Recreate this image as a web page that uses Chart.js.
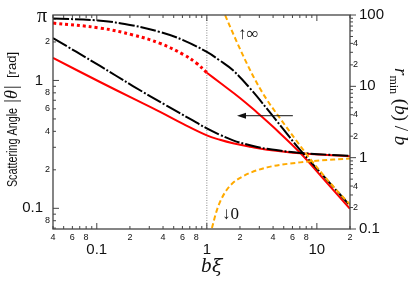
<!DOCTYPE html>
<html>
<head>
<meta charset="utf-8">
<script src="https://cdn.jsdelivr.net/npm/chart.js@4.4.1/dist/chart.umd.min.js"></script>
<style>
    html, body { margin: 0; padding: 0; background: #fff; }
    #wrap { width: 415px; height: 282px; }
</style>
</head>
<body>
<div id="wrap"><canvas id="myChart" width="415" height="282"></canvas></div>
<script>
// scattering angle |theta| (left axis)
var thetaBlackX = [0.04, 0.1025, 0.213, 0.376, 0.608, 1.0, 1.316, 1.73, 2.47, 3.53, 4.93, 7.04, 11.9, 20];
var thetaBlackY = [3.05, 2.945, 2.69, 2.39, 2.07, 1.67, 1.43, 1.20, 0.867, 0.599, 0.418, 0.286, 0.173, 0.105];
var thetaRedDotX = [0.04, 0.107, 0.213, 0.376, 0.608, 0.8, 1.0];
var thetaRedDotY = [2.81, 2.57, 2.27, 1.95, 1.60, 1.37, 1.15];
var thetaRedX = [1.0, 1.31, 2.0, 2.86, 4.0, 7.04, 11.9, 20];
var thetaRedY = [1.15, 0.964, 0.73, 0.562, 0.434, 0.272, 0.164, 0.099];
var thetaOrangeX = [1.213, 1.464, 1.66, 1.883, 2.226, 2.631, 3.38, 4.63, 6.34, 8.68, 13.18, 20];
var thetaOrangeY = [4.83, 3.25, 2.53, 1.98, 1.45, 1.085, 0.744, 0.505, 0.349, 0.244, 0.158, 0.107];

// r_min(b)/b (right axis)
var rminBlackX = [0.04, 0.107, 0.213, 0.435, 0.704, 1.0, 1.316, 1.73, 2.47, 3.53, 7.04, 20];
var rminBlackY = [47.6, 19.3, 10.1, 5.31, 3.49, 2.57, 2.09, 1.75, 1.49, 1.33, 1.167, 1.06];
var rminRedX = [0.04, 0.107, 0.213, 0.376, 0.608, 1.0, 1.316, 1.73, 2.47, 3.53, 7.04, 20];
var rminRedY = [25.0, 11.5, 6.77, 4.38, 2.97, 2.05, 1.78, 1.59, 1.42, 1.29, 1.15, 1.043];
var rminOrangeX = [1.069, 1.127, 1.213, 1.318, 1.496, 1.73, 2.047, 2.47, 3.53, 7.04, 20];
var rminOrangeY = [0.080, 0.111, 0.169, 0.240, 0.343, 0.444, 0.53, 0.612, 0.731, 0.859, 0.977];

// axes and tick labels
var xRange = [0.04, 20];
var thetaRange = [0.0689, 3.25];
var rminRange = [0.1, 100];
var xMajorLabels = [0.1, 1, 10];
var xMinorLabels = [0.04, 0.06, 0.08, 0.2, 0.4, 0.6, 0.8, 2, 4, 6, 8, 20];
var leftMajorLabels = [1, 0.1];
var leftMinorLabels = [2, 0.8, 0.6, 0.4, 0.2, 0.08];
var rightMajorLabels = [100, 10, 1, 0.1];
var rightMinorLabels = [40, 20, 4, 2, 0.4, 0.2];

// annotations (data units, left axis)
var arrowFrom = { x: 6.05, y: 0.53 };
var arrowTo = { x: 1.88, y: 0.53 };
var infLabel = { x: 1.92, y: 2.12 };
var zeroLabel = { x: 1.37, y: 0.0826 };

function toPoints(xs, ys) {
    return xs.map(function (x, i) { return { x: x, y: ys[i] }; });
}

function logTicks(min, max) {
    var out = [];
    for (var e = -2; e <= 2; e++) {
        for (var m = 1; m <= 9; m++) {
            var v = m * Math.pow(10, e);
            if (v >= min * 0.999 && v <= max * 1.001) out.push({ v: v, major: m === 1 });
        }
    }
    return out;
}

function digit(v) {
    return String(Math.round(v / Math.pow(10, Math.floor(Math.log10(v) + 1e-9))));
}

function line(ctx, x1, y1, x2, y2) {
    ctx.beginPath();
    ctx.moveTo(x1, y1);
    ctx.lineTo(x2, y2);
    ctx.stroke();
}

function rotText(ctx, text, font, x, y, angle, sx) {
    ctx.save();
    ctx.translate(x, y);
    ctx.rotate(angle);
    ctx.scale(sx || 1, 1);
    ctx.font = font;
    ctx.textAlign = 'center';
    ctx.textBaseline = 'alphabetic';
    ctx.fillText(text, 0, 0);
    ctx.restore();
}

var SANS = '"Liberation Sans", Arial, sans-serif';
var SERIF = '"Liberation Serif", "Times New Roman", serif';

var framePlugin = {
    id: 'frame',
    beforeDatasetsDraw: function (chart) {
        var ctx = chart.ctx, a = chart.chartArea;
        var px = chart.scales.x.getPixelForValue(1);
        ctx.save();
        ctx.strokeStyle = '#888';
        ctx.lineWidth = 1;
        ctx.setLineDash([1, 1.5]);
        line(ctx, px, a.top, px, a.bottom);
        ctx.restore();
    },
    afterDatasetsDraw: function (chart) {
        var ctx = chart.ctx, a = chart.chartArea;
        var xs = chart.scales.x, yl = chart.scales.y, yr = chart.scales.y2;
        ctx.save();
        ctx.strokeStyle = '#444';
        ctx.fillStyle = '#111';
        ctx.lineWidth = 1.3;
        ctx.strokeRect(a.left, a.top, a.right - a.left, a.bottom - a.top);

        ctx.lineWidth = 1;
        logTicks(xRange[0], xRange[1]).forEach(function (t) {
            var p = xs.getPixelForValue(t.v), len = t.major ? 6 : 3;
            line(ctx, p, a.bottom, p, a.bottom - len);
            line(ctx, p, a.top, p, a.top + len);
        });
        logTicks(thetaRange[0], thetaRange[1]).forEach(function (t) {
            var p = yl.getPixelForValue(t.v), len = t.major ? 6 : 3;
            line(ctx, a.left, p, a.left + len, p);
        });
        logTicks(rminRange[0], rminRange[1]).forEach(function (t) {
            var p = yr.getPixelForValue(t.v), len = t.major ? 6 : 3;
            line(ctx, a.right, p, a.right + len, p);
        });

        // tick labels
        ctx.textBaseline = 'middle';
        ctx.textAlign = 'center';
        ctx.font = '9px ' + SANS;
        xMinorLabels.forEach(function (v) { ctx.fillText(digit(v), xs.getPixelForValue(v), a.bottom + 8.5); });
        ctx.font = '15px ' + SANS;
        xMajorLabels.forEach(function (v) { ctx.fillText(String(v), xs.getPixelForValue(v), a.bottom + 21); });

        ctx.textAlign = 'right';
        ctx.font = '9px ' + SANS;
        leftMinorLabels.forEach(function (v) { ctx.fillText(digit(v), a.left - 3, yl.getPixelForValue(v)); });
        ctx.font = '15px ' + SANS;
        leftMajorLabels.forEach(function (v) { ctx.fillText(String(v), a.left - 10, yl.getPixelForValue(v)); });
        ctx.textBaseline = 'alphabetic';
        ctx.font = '20px ' + SERIF;
        ctx.fillText('\u03c0', a.left - 6, yl.getPixelForValue(Math.PI) + 5);

        ctx.textBaseline = 'middle';
        ctx.textAlign = 'left';
        ctx.font = '9px ' + SANS;
        rightMinorLabels.forEach(function (v) { ctx.fillText(digit(v), a.right + 3, yr.getPixelForValue(v)); });
        ctx.font = '15px ' + SANS;
        rightMajorLabels.forEach(function (v) { ctx.fillText(String(v), a.right + 9, yr.getPixelForValue(v)); });

        // arrow and limit marks
        var ax1 = xs.getPixelForValue(arrowFrom.x), ay = yl.getPixelForValue(arrowFrom.y);
        var ax2 = xs.getPixelForValue(arrowTo.x);
        ctx.strokeStyle = '#111';
        line(ctx, ax1, ay, ax2 + 5, ay);
        ctx.beginPath();
        ctx.moveTo(ax2, ay);
        ctx.lineTo(ax2 + 9, ay - 3);
        ctx.lineTo(ax2 + 9, ay + 3);
        ctx.closePath();
        ctx.fill();

        ctx.textAlign = 'left';
        ctx.textBaseline = 'alphabetic';
        ctx.font = '17px ' + SERIF;
        ctx.fillText('\u2191\u221e', xs.getPixelForValue(infLabel.x), yl.getPixelForValue(infLabel.y));
        ctx.fillText('\u21930', xs.getPixelForValue(zeroLabel.x), yl.getPixelForValue(zeroLabel.y));

        // axis titles
        ctx.textAlign = 'left';
        ctx.font = 'italic 21px ' + SERIF;
        ctx.fillText('b', 201, 272);
        ctx.font = 'italic 19px "DejaVu Serif", serif';
        ctx.fillText('\u03be', 212, 272);
        rotText(ctx, 'Scattering Angle', '15px ' + SANS, 16.5, 147.5, -Math.PI / 2, 0.72);
        rotText(ctx, '|\u03b8|', 'italic 18px ' + SERIF, 17, 94.5, -Math.PI / 2);
        rotText(ctx, '[rad]', '13px ' + SANS, 16, 65, -Math.PI / 2);

        // r_min(b)/b, reading downwards
        ctx.save();
        ctx.translate(395, 68);
        ctx.rotate(Math.PI / 2);
        ctx.textAlign = 'left';
        var cx = 0;
        var parts = [
            { t: 'r', f: 'italic 19px ' + SERIF, dy: 0 },
            { t: 'min', f: '12px ' + SERIF, dy: 5 },
            { t: ' (', f: '19px ' + SERIF, dy: 0 },
            { t: 'b', f: 'italic 19px ' + SERIF, dy: 0 },
            { t: ') / ', f: '19px ' + SERIF, dy: 0 },
            { t: 'b', f: 'italic 19px ' + SERIF, dy: 0 }
        ];
        parts.forEach(function (p) {
            ctx.font = p.f;
            ctx.fillText(p.t, cx, p.dy);
            cx += ctx.measureText(p.t).width;
        });
        ctx.restore();
        ctx.restore();
    }
};

function lineSet(xs, ys, axis, color, width, dash, mode) {
    return {
        data: toPoints(xs, ys),
        yAxisID: axis,
        borderColor: color,
        borderWidth: width,
        borderDash: dash,
        pointRadius: 0,
        fill: false,
        tension: 0.4,
        cubicInterpolationMode: mode || 'default'
    };
}

var ORANGE = '#ffaa00';
new Chart(document.getElementById('myChart'), {
    type: 'line',
    data: {
        datasets: [
            lineSet(thetaOrangeX, thetaOrangeY, 'y', ORANGE, 2, [5, 3], 'monotone'),
            lineSet(rminOrangeX, rminOrangeY, 'y2', ORANGE, 2, [5, 3], 'monotone'),
            lineSet(thetaBlackX, thetaBlackY, 'y', '#000', 2, [16, 2, 2, 2]),
            lineSet(rminBlackX, rminBlackY, 'y2', '#000', 2, [16, 2, 2, 2]),
            lineSet(thetaRedDotX, thetaRedDotY, 'y', '#ff0000', 3, [3, 3]),
            lineSet(thetaRedX, thetaRedY, 'y', '#ff0000', 2, []),
            lineSet(rminRedX, rminRedY, 'y2', '#ff0000', 2, [])
        ]
    },
    options: {
        responsive: false,
        animation: false,
        layout: { padding: { left: 53, right: 65, top: 15, bottom: 53 } },
        plugins: { legend: { display: false }, tooltip: { enabled: false } },
        scales: {
            x: { type: 'logarithmic', min: xRange[0], max: xRange[1], display: false },
            y: { type: 'logarithmic', min: thetaRange[0], max: thetaRange[1], display: false },
            y2: { type: 'logarithmic', min: rminRange[0], max: rminRange[1], display: false, position: 'right' }
        }
    },
    plugins: [framePlugin]
});
</script>
</body>
</html>
